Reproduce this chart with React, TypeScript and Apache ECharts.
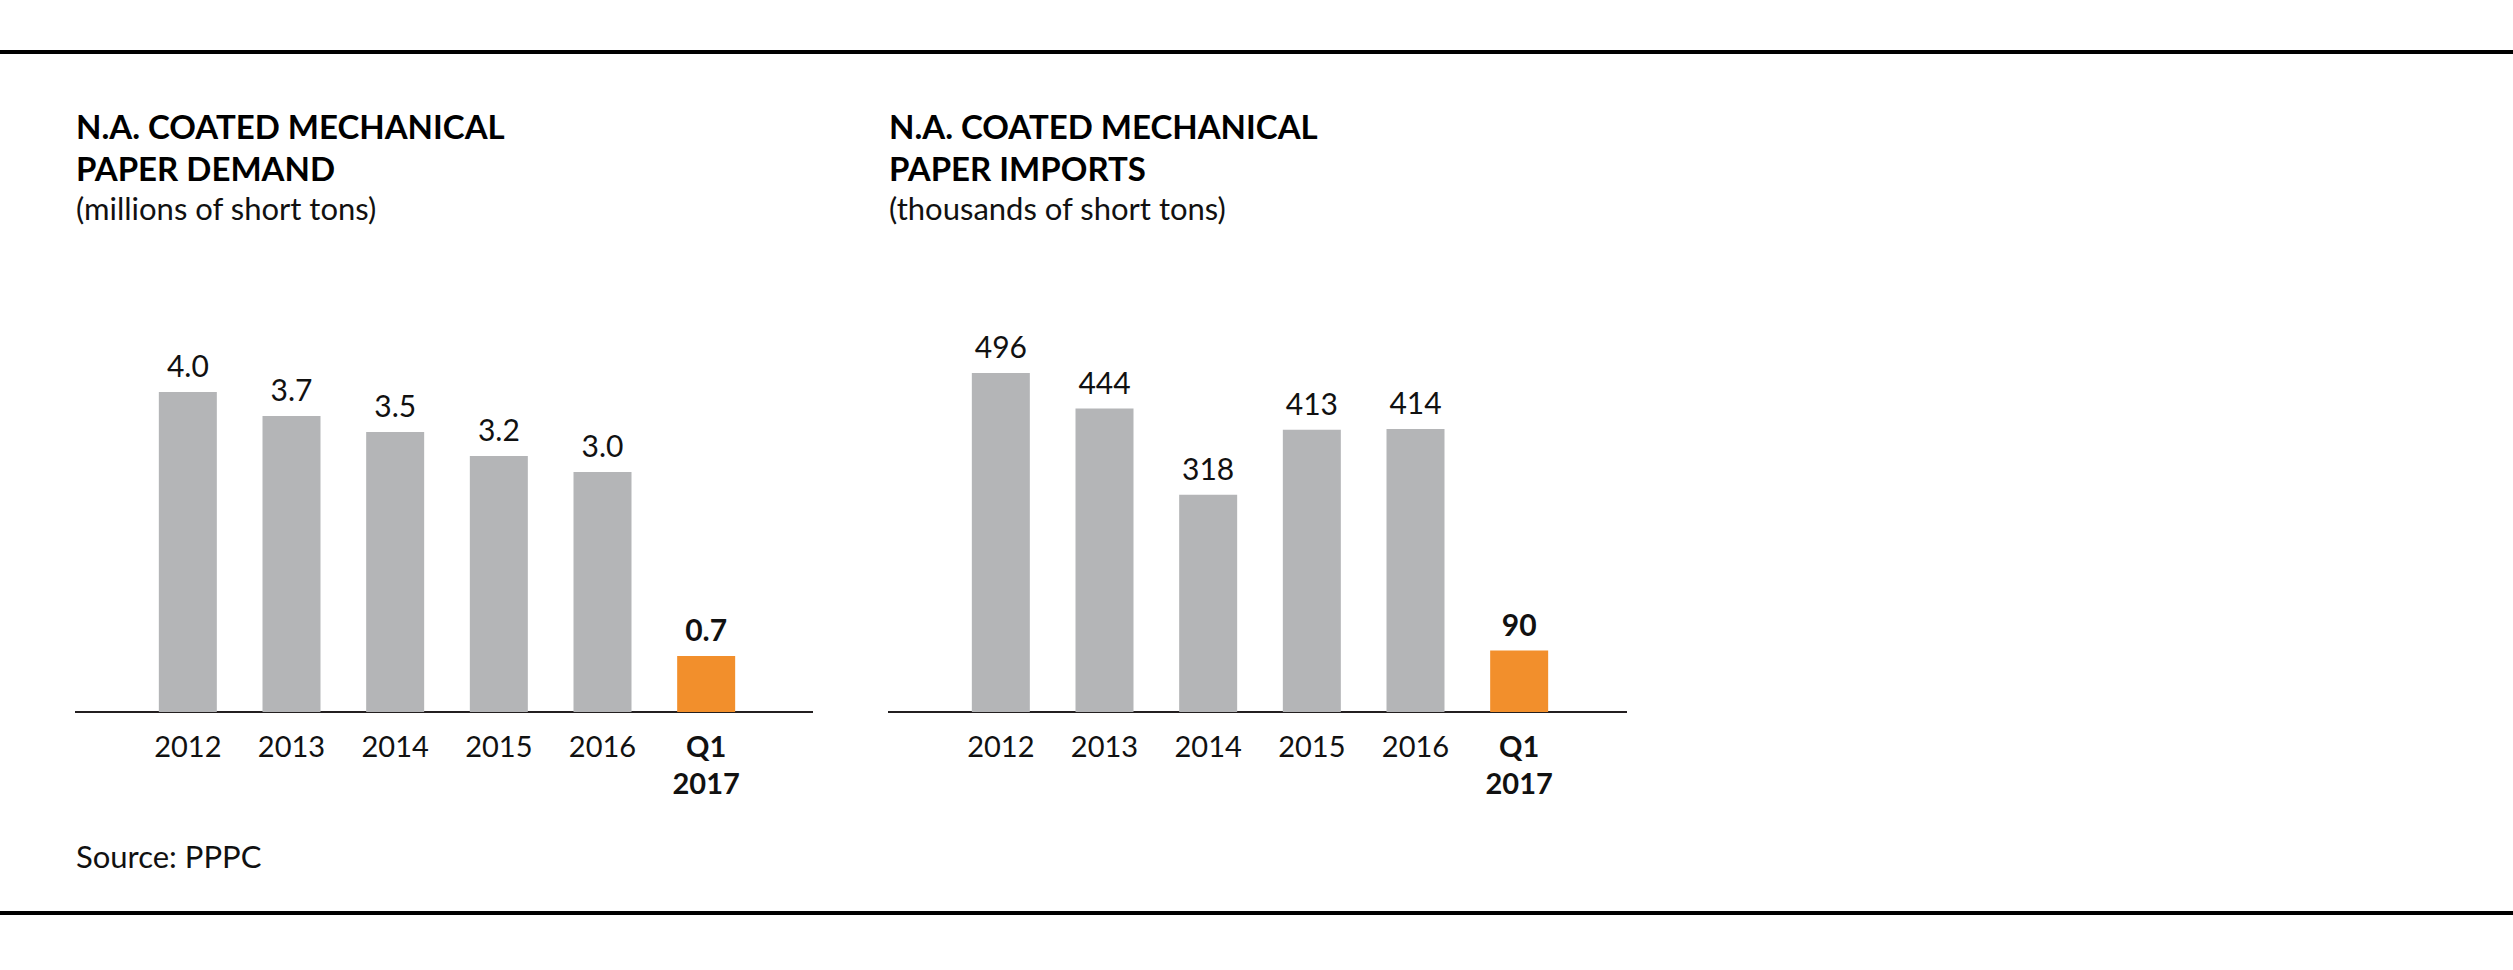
import React, { useEffect, useRef } from 'react';
import * as echarts from 'echarts';

const categories = ['2012', '2013', '2014', '2015', '2016', 'Q1\n2017'];
const demandValues = [4.0, 3.7, 3.5, 3.2, 3.0, 0.7];
const importValues = [496, 444, 318, 413, 414, 90];
const highlightIndex = 5;

const demandTitle = 'N.A. COATED MECHANICAL\nPAPER DEMAND';
const demandUnit = '(millions of short tons)';
const importTitle = 'N.A. COATED MECHANICAL\nPAPER IMPORTS';
const importUnit = '(thousands of short tons)';
const sourceText = 'Source: PPPC';

const FONT = 'Lato, "Noto Sans", sans-serif';
const GRAY = '#b4b5b7';
const ORANGE = '#f28f2c';
const INK = '#111111';

export default function App() {
  const ref = useRef<HTMLDivElement>(null);
  useEffect(() => {
    const chart = echarts.init(ref.current!, null, { renderer: 'svg' });
    const makeData = (vals: number[]) =>
      vals.map((v, i) => ({
        value: v,
        itemStyle: { color: i === highlightIndex ? ORANGE : GRAY },
        label: i === highlightIndex ? { fontWeight: 'bold' } : {},
      }));
    const xData = categories.map((c, i) => ({
      value: c,
      textStyle: i === highlightIndex ? { fontWeight: 'bold' } : {},
    }));
    const xAxisBase = {
      type: 'category',
      data: xData,
      axisLine: { show: false },
      axisTick: { show: false },
      axisLabel: {
        interval: 0,
        fontSize: 29,
        fontWeight: 'normal',
        lineHeight: 37,
        margin: 15,
        color: INK,
        fontFamily: FONT,
      },
    };
    const labelBase = {
      show: true,
      position: 'top',
      distance: 12,
      fontSize: 30,
      fontWeight: 'normal',
      color: INK,
      fontFamily: FONT,
    };
    const titleBase = {
      padding: 0,
      itemGap: 3,
      textStyle: { fontSize: 33, fontWeight: 'bold', lineHeight: 42, color: '#000', fontFamily: FONT },
      subtextStyle: { fontSize: 31, fontWeight: 'normal', lineHeight: 31, color: INK, fontFamily: FONT },
    };
    chart.setOption({
      animation: false,
      backgroundColor: '#ffffff',
      title: [
        { ...titleBase, left: 76, top: 105, text: demandTitle, subtext: demandUnit },
        { ...titleBase, left: 889, top: 105, text: importTitle, subtext: importUnit },
      ],
      grid: [
        { left: 136, top: 312, width: 622, height: 400 },
        { left: 949, top: 302, width: 622, height: 410 },
      ],
      xAxis: [
        { ...xAxisBase, gridIndex: 0 },
        { ...xAxisBase, gridIndex: 1 },
      ],
      yAxis: [
        { type: 'value', gridIndex: 0, min: 0, max: 5, show: false, splitLine: { show: false } },
        { type: 'value', gridIndex: 1, min: 0, max: 600, show: false, splitLine: { show: false } },
      ],
      series: [
        {
          type: 'bar',
          xAxisIndex: 0,
          yAxisIndex: 0,
          barWidth: 58,
          data: makeData(demandValues),
          label: { ...labelBase, formatter: (p: any) => Number(p.value).toFixed(1) },
        },
        {
          type: 'bar',
          xAxisIndex: 1,
          yAxisIndex: 1,
          barWidth: 58,
          data: makeData(importValues),
          label: { ...labelBase, formatter: (p: any) => String(p.value) },
        },
      ],
      graphic: [
        { type: 'rect', left: 0, top: 50, shape: { width: 2513, height: 4 }, style: { fill: '#000' } },
        { type: 'rect', left: 0, top: 911, shape: { width: 2513, height: 4 }, style: { fill: '#000' } },
        { type: 'rect', left: 75, top: 711, shape: { width: 738, height: 2 }, style: { fill: '#231f20' } },
        { type: 'rect', left: 888, top: 711, shape: { width: 739, height: 2 }, style: { fill: '#231f20' } },
        {
          type: 'text',
          left: 76,
          top: 840,
          style: { text: sourceText, fontSize: 31, fontWeight: 'normal', fill: INK, fontFamily: FONT },
        },
      ],
    });
    return () => chart.dispose();
  }, []);
  return (
    <div
      ref={ref}
      style={{ position: 'fixed', left: 0, top: 0, width: 2513, height: 970, background: '#fff' }}
    />
  );
}
